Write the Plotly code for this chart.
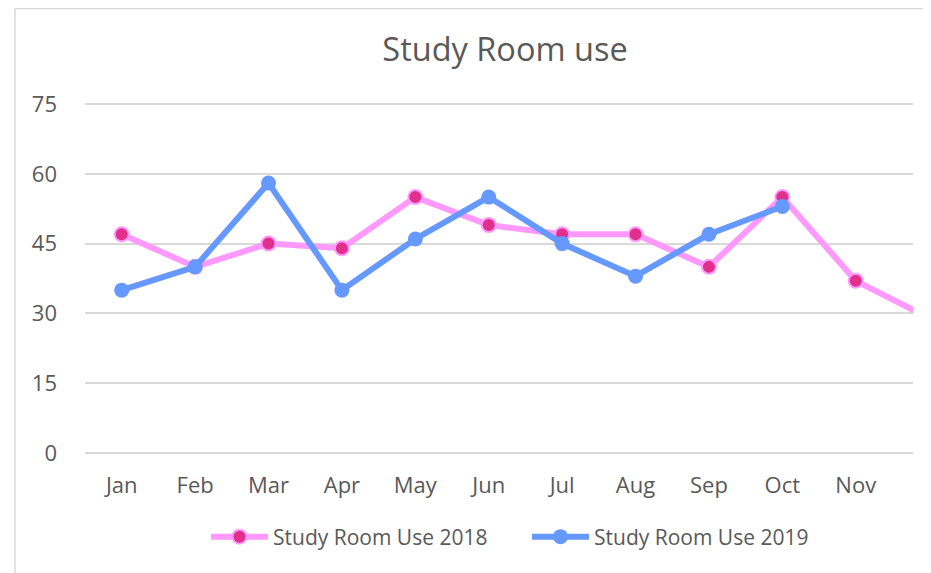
import plotly.graph_objects as go

months = ["Jan", "Feb", "Mar", "Apr", "May", "Jun", "Jul", "Aug", "Sep", "Oct", "Nov", "Dec"]
use_2018 = [47, 40, 45, 44, 55, 49, 47, 47, 40, 55, 37, 29]
use_2019 = [35, 40, 58, 35, 46, 55, 45, 38, 47, 53]
y_ticks = [0, 15, 30, 45, 60, 75]

FONT = "Open Sans"
GREY = "#595959"

# page has an 8px body margin; figure sized to fit the 931x573 window
W, H = 923, 565
L, R, T, B = 77, 18, 95, 119
PW, PH = W - L - R, H - T - B

fig = go.Figure()
fig.add_trace(go.Scatter(
    x=list(range(len(use_2018))), y=use_2018, name="Study Room Use 2018",
    mode="lines+markers",
    line=dict(color="#ff99ff", width=6),
    marker=dict(size=14, color="#e0308c", line=dict(color="#ff99ff", width=2)),
))
fig.add_trace(go.Scatter(
    x=list(range(len(use_2019))), y=use_2019, name="Study Room Use 2019",
    mode="lines+markers",
    line=dict(color="#6699ff", width=6),
    marker=dict(size=15, color="#6699ff"),
))

fig.update_layout(
    width=W, height=H,
    margin=dict(l=L, r=R, t=T, b=B),
    paper_bgcolor="white", plot_bgcolor="white",
    font=dict(family=FONT, color=GREY),
    title=dict(text="Study Room use", x=(505 - 8 - L) / PW, xref="paper", xanchor="center",
               y=1 - 42 / H, yref="container", yanchor="middle",
               font=dict(family=FONT, size=32.5, color=GREY)),
    showlegend=True,
    legend=dict(orientation="h", x=(508 - 8 - L + 19) / PW, xanchor="center",
                y=(H - B - 529) / PH, yanchor="middle",
                font=dict(family=FONT, size=21, color=GREY), itemwidth=57,
                entrywidth=249, bgcolor="rgba(0,0,0,0)"),
    xaxis=dict(tickmode="array", tickvals=list(range(len(months))), ticktext=months,
               range=[-0.5, 10.78], showgrid=False, zeroline=False, showline=False,
               ticks="", tickfont=dict(family=FONT, size=22, color=GREY),
               ticklabelstandoff=16),
    yaxis=dict(range=[-0.22, 75.22], tickvals=y_ticks, showgrid=True, gridcolor="#d9d9d9",
               gridwidth=1.5, zeroline=False, showline=False, ticks="",
               tickfont=dict(family=FONT, size=22, color=GREY),
               ticklabelstandoff=27),
    shapes=[dict(type="rect", xref="paper", yref="paper",
                 x0=(7 - L) / PW, x1=1.2, y0=-0.6, y1=(H - B - 0.5) / PH,
                 line=dict(color="#d9d9d9", width=1.5), fillcolor="rgba(0,0,0,0)",
                 layer="below")],
)

fig.write_html("out.html")
